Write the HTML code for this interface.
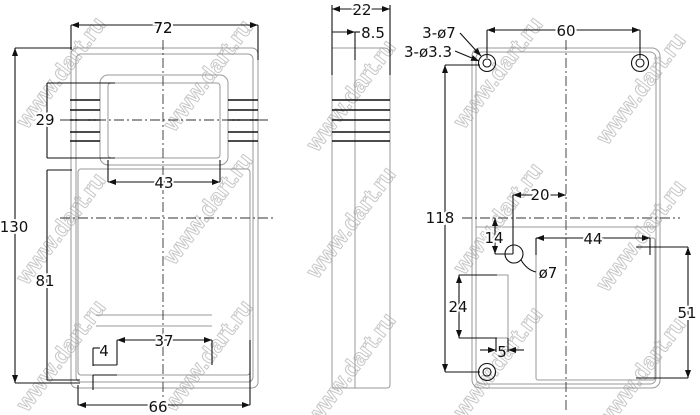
<!DOCTYPE html>
<html><head><meta charset="utf-8"><style>
html,body{margin:0;padding:0;background:#fff;}
svg{display:block;}
text{font-family:"DejaVu Sans","Liberation Sans",sans-serif;}
.d{fill:#111;font-size:15px;}
.wm{fill:none;stroke:#c8c8c8;stroke-width:1;font-size:23px;font-weight:bold;font-family:"Liberation Sans",sans-serif;}
</style></head><body>
<svg width="700" height="415" viewBox="0 0 700 415" xmlns="http://www.w3.org/2000/svg">
<defs>
<marker id="a" markerWidth="8" markerHeight="6" refX="8" refY="3" orient="auto-start-reverse" markerUnits="userSpaceOnUse"><path d="M0,0 L8,3 L0,6 z" fill="#111"/></marker>
</defs>
<!-- watermarks -->
<g>
<text class="wm" transform="translate(67,77) rotate(-53)" text-anchor="middle">www.dart.ru</text>
<text class="wm" transform="translate(214,80) rotate(-53)" text-anchor="middle">www.dart.ru</text>
<text class="wm" transform="translate(357,100) rotate(-53)" text-anchor="middle">www.dart.ru</text>
<text class="wm" transform="translate(504,77) rotate(-53)" text-anchor="middle">www.dart.ru</text>
<text class="wm" transform="translate(647,93) rotate(-53)" text-anchor="middle">www.dart.ru</text>
<text class="wm" transform="translate(67,233) rotate(-53)" text-anchor="middle">www.dart.ru</text>
<text class="wm" transform="translate(214,213) rotate(-53)" text-anchor="middle">www.dart.ru</text>
<text class="wm" transform="translate(357,227) rotate(-53)" text-anchor="middle">www.dart.ru</text>
<text class="wm" transform="translate(504,223) rotate(-53)" text-anchor="middle">www.dart.ru</text>
<text class="wm" transform="translate(647,240) rotate(-53)" text-anchor="middle">www.dart.ru</text>
<text class="wm" transform="translate(67,360) rotate(-53)" text-anchor="middle">www.dart.ru</text>
<text class="wm" transform="translate(214,360) rotate(-53)" text-anchor="middle">www.dart.ru</text>
<text class="wm" transform="translate(357,373) rotate(-53)" text-anchor="middle">www.dart.ru</text>
<text class="wm" transform="translate(504,367) rotate(-53)" text-anchor="middle">www.dart.ru</text>
<text class="wm" transform="translate(647,377) rotate(-53)" text-anchor="middle">www.dart.ru</text>
</g>
<g fill="none" stroke="#999" stroke-width="1">
<!-- FRONT VIEW -->
<rect x="71" y="48" width="187" height="340" rx="6"/>
<rect x="76" y="54" width="177" height="328" rx="5"/>
<rect x="100" y="75" width="128" height="90" rx="8"/>
<rect x="108" y="83" width="112" height="75" rx="3"/>
<rect x="78" y="169" width="172" height="206" rx="3"/>
<line x1="96" y1="315" x2="212" y2="315"/>
<line x1="96" y1="326" x2="212" y2="326"/>
<!-- SIDE VIEW -->
<path d="M332,48 V385 Q332,388 335,388 H387 Q390,388 390,385 V55 Q390,48 384,48 H332"/>
<line x1="355" y1="48" x2="355" y2="388"/>
<!-- RIGHT VIEW -->
<rect x="472" y="48" width="188" height="340" rx="8"/>
<rect x="476" y="52" width="180" height="332" rx="6"/>
<rect x="536" y="238" width="119" height="142" rx="2"/>
<line x1="476" y1="227" x2="656" y2="227"/>
<rect x="459" y="275" width="49" height="63"/>
</g>
<g stroke="#111" stroke-width="1.1" fill="none">
<!-- front ribs -->
<g stroke-width="1.6">
<line x1="70" y1="100" x2="100" y2="100"/><line x1="228" y1="100" x2="258" y2="100"/>
<line x1="70" y1="110" x2="100" y2="110"/><line x1="228" y1="110" x2="258" y2="110"/>
<line x1="70" y1="120" x2="100" y2="120"/><line x1="228" y1="120" x2="258" y2="120"/>
<line x1="70" y1="132" x2="100" y2="132"/><line x1="228" y1="132" x2="258" y2="132"/>
<line x1="70" y1="141" x2="100" y2="141"/><line x1="228" y1="141" x2="258" y2="141"/>
<line x1="332" y1="100" x2="390" y2="100"/>
<line x1="332" y1="110" x2="390" y2="110"/>
<line x1="332" y1="120" x2="390" y2="120"/>
<line x1="332" y1="132" x2="390" y2="132"/>
<line x1="332" y1="141" x2="390" y2="141"/>
</g>
<!-- centerlines -->
<g stroke="#333" stroke-dasharray="10,3,2,3" stroke-width="0.9">
<line x1="163" y1="40" x2="163" y2="400"/>
<line x1="60" y1="120" x2="270" y2="120"/>
<line x1="60" y1="218" x2="275" y2="218"/>
<line x1="566" y1="40" x2="566" y2="412"/>
<line x1="462" y1="218" x2="680" y2="218"/>
</g>
<!-- front dims -->
<line x1="71" y1="25" x2="258" y2="25" marker-start="url(#a)" marker-end="url(#a)"/>
<line x1="71" y1="25" x2="71" y2="50"/><line x1="258" y1="25" x2="258" y2="60"/>
<line x1="15" y1="48" x2="15" y2="383" marker-start="url(#a)" marker-end="url(#a)"/>
<line x1="15" y1="48" x2="72" y2="48"/><line x1="15" y1="383" x2="80" y2="383"/>
<line x1="47" y1="83" x2="47" y2="158"/>
<line x1="47" y1="83" x2="115" y2="83"/><line x1="47" y1="158" x2="115" y2="158"/>
<line x1="108" y1="182" x2="220" y2="182" marker-start="url(#a)" marker-end="url(#a)"/>
<line x1="108" y1="160" x2="108" y2="182"/><line x1="220" y1="160" x2="220" y2="182"/>
<line x1="47" y1="170" x2="47" y2="380"/>
<line x1="47" y1="170" x2="72" y2="170"/><line x1="47" y1="380" x2="80" y2="380"/>
<line x1="117" y1="340" x2="212" y2="340" marker-start="url(#a)" marker-end="url(#a)"/>
<line x1="117" y1="340" x2="117" y2="365"/><line x1="212" y1="340" x2="212" y2="365"/>
<line x1="93" y1="348" x2="93" y2="366"/><line x1="93" y1="348" x2="100" y2="348"/>
<line x1="93" y1="365" x2="117" y2="365"/>
<line x1="93" y1="375" x2="117" y2="375"/><line x1="93" y1="375" x2="93" y2="390"/>
<line x1="78" y1="405" x2="250" y2="405" marker-start="url(#a)" marker-end="url(#a)"/>
<line x1="78" y1="385" x2="78" y2="405"/><line x1="250" y1="340" x2="250" y2="405"/>
<!-- side dims -->
<line x1="332" y1="9" x2="390" y2="9" marker-start="url(#a)" marker-end="url(#a)"/>
<line x1="332" y1="5" x2="332" y2="75"/><line x1="390" y1="5" x2="390" y2="75"/>
<line x1="332" y1="32" x2="355" y2="32" marker-end="url(#a)"/>
<line x1="355" y1="32" x2="360" y2="32"/>
<line x1="355" y1="32" x2="355" y2="60"/>
<!-- right dims -->
<line x1="487" y1="30" x2="640" y2="30" marker-start="url(#a)" marker-end="url(#a)"/>
<line x1="487" y1="30" x2="487" y2="58"/><line x1="640" y1="30" x2="640" y2="58"/>
<line x1="445" y1="65" x2="445" y2="372" marker-start="url(#a)" marker-end="url(#a)"/>
<line x1="445" y1="65" x2="480" y2="65"/><line x1="445" y1="372" x2="480" y2="372"/>
<circle cx="487" cy="63" r="8.5"/><circle cx="487" cy="63" r="4"/>
<circle cx="640" cy="63" r="8.5"/><circle cx="640" cy="63" r="4"/>
<circle cx="487" cy="372" r="8.5"/><circle cx="487" cy="372" r="4"/>
<line x1="460" y1="33" x2="481" y2="56" marker-end="url(#a)"/>
<line x1="455" y1="51" x2="479" y2="61" marker-end="url(#a)"/>
<line x1="513" y1="195" x2="566" y2="195" marker-start="url(#a)" marker-end="url(#a)"/>
<line x1="513" y1="195" x2="513" y2="254"/>
<line x1="495" y1="218" x2="495" y2="254" marker-start="url(#a)" marker-end="url(#a)"/>
<line x1="495" y1="254" x2="513" y2="254"/>
<circle cx="514" cy="254" r="9"/>
<path d="M521,260 Q527,270 536,272"/>
<line x1="459" y1="275" x2="459" y2="338" marker-start="url(#a)" marker-end="url(#a)"/>
<line x1="459" y1="275" x2="497" y2="275"/><line x1="459" y1="338" x2="497" y2="338"/>
<line x1="496" y1="338" x2="496" y2="352"/><line x1="508" y1="338" x2="508" y2="352"/>
<line x1="480" y1="350" x2="496" y2="350" marker-end="url(#a)"/>
<line x1="524" y1="350" x2="508" y2="350" marker-end="url(#a)"/>
<line x1="536" y1="238" x2="650" y2="238" marker-start="url(#a)" marker-end="url(#a)"/>
<line x1="536" y1="238" x2="536" y2="255"/><line x1="650" y1="238" x2="650" y2="255"/>
<line x1="688" y1="247" x2="688" y2="378" marker-start="url(#a)" marker-end="url(#a)"/>
<line x1="636" y1="247" x2="688" y2="247"/><line x1="636" y1="378" x2="688" y2="378"/>
</g>
<!-- labels -->
<g class="d" text-anchor="middle">
<text x="163" y="33" fill="#111" style="paint-order:stroke" stroke="#fff" stroke-width="4">72</text>
<text x="163" y="33">72</text>
<text x="14" y="232" stroke="#fff" stroke-width="4">130</text><text x="14" y="232">130</text>
<text x="45" y="125" stroke="#fff" stroke-width="4">29</text><text x="45" y="125">29</text>
<text x="164" y="188" stroke="#fff" stroke-width="4">43</text><text x="164" y="188">43</text>
<text x="45" y="286" stroke="#fff" stroke-width="4">81</text><text x="45" y="286">81</text>
<text x="164" y="346" stroke="#fff" stroke-width="4">37</text><text x="164" y="346">37</text>
<text x="104" y="356">4</text>
<text x="158" y="412" stroke="#fff" stroke-width="4">66</text><text x="158" y="412">66</text>
<text x="362" y="15" stroke="#fff" stroke-width="4">22</text><text x="362" y="15">22</text>
<text x="373" y="38">8.5</text>
<text x="439" y="38">3-ø7</text>
<text x="428" y="57">3-ø3.3</text>
<text x="566" y="36" stroke="#fff" stroke-width="4">60</text><text x="566" y="36">60</text>
<text x="440" y="223" stroke="#fff" stroke-width="4">118</text><text x="440" y="223">118</text>
<text x="540" y="200" stroke="#fff" stroke-width="4">20</text><text x="540" y="200">20</text>
<text x="494" y="243" stroke="#fff" stroke-width="4">14</text><text x="494" y="243">14</text>
<text x="548" y="278">ø7</text>
<text x="458" y="312" stroke="#fff" stroke-width="4">24</text><text x="458" y="312">24</text>
<text x="502" y="357">5</text>
<text x="593" y="244" stroke="#fff" stroke-width="4">44</text><text x="593" y="244">44</text>
<text x="687" y="318" stroke="#fff" stroke-width="4">51</text><text x="687" y="318">51</text>
</g>
</svg>
</body></html>
